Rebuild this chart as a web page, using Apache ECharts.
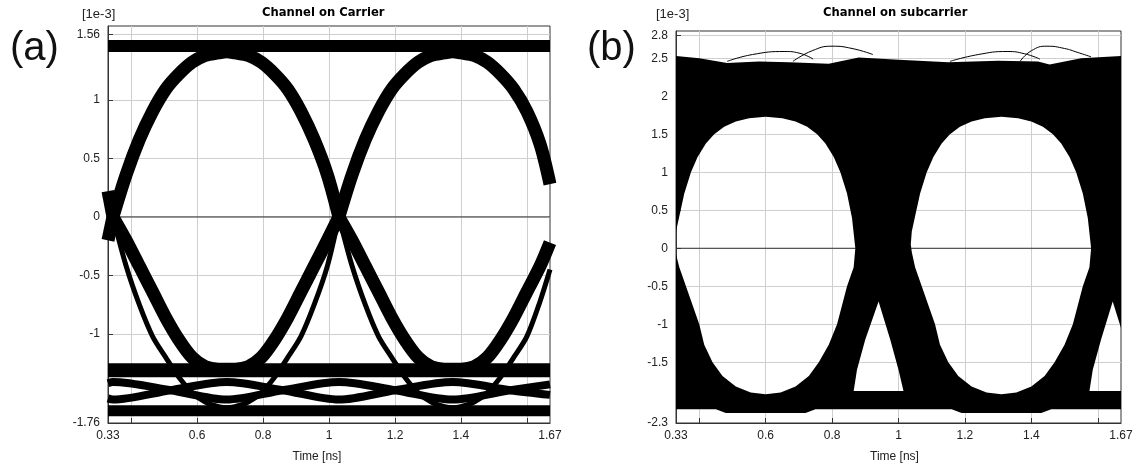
<!DOCTYPE html>
<html><head><meta charset="utf-8">
<script src="https://cdn.jsdelivr.net/npm/echarts@6/dist/echarts.min.js"></script>
<style>html,body{margin:0;padding:0;background:#fff}#c{width:1138px;height:468px}</style>
</head><body><div id="c"></div>
<script>
// ---------- axes ----------
const xTickValues = [0.4, 0.6, 0.8, 1.0, 1.2, 1.4, 1.6];
const xLabelValues = [0.33, 0.6, 0.8, 1, 1.2, 1.4, 1.67];
const yTickValuesA = [-1, -0.5, 0, 0.5, 1, 1.56];
const yLabelValuesA = [-1.76, -1, -0.5, 0, 0.5, 1, 1.56];
const yTickValuesB = [-1.5, -1, -0.5, 0, 0.5, 1, 1.5, 2, 2.5, 2.8];
const yLabelValuesB = [-2.3, -1.5, -1, -0.5, 0, 0.5, 1, 1.5, 2, 2.5, 2.8];

// ---------- panel (a): Channel on Carrier ----------
const timeEdgeA = [0.33, 0.345];
const timeHalf1A = [0.345, 0.385, 0.425, 0.465, 0.505, 0.545, 0.585, 0.625, 0.665, 0.69, 0.715, 0.755, 0.795, 0.835, 0.875, 0.915, 0.955, 0.995, 1.03];
const timeHalf2A = [1.03, 1.07, 1.11, 1.15, 1.19, 1.23, 1.27, 1.31, 1.35, 1.375, 1.40, 1.44, 1.48, 1.52, 1.56, 1.60, 1.64, 1.67];
const timeFullA = [0.33, 1.67];
const timeLensA = [0.33, 0.345, 0.52, 0.69, 0.86, 1.03, 1.2, 1.375, 1.55, 1.67];

const upperTailA = [0.22, 0];
const lowerTailA = [-0.2, 0];
const upperArch1A = [0, 0.36, 0.66, 0.90, 1.09, 1.22, 1.32, 1.38, 1.40, 1.41, 1.40, 1.38, 1.32, 1.22, 1.09, 0.90, 0.66, 0.36, 0];
const upperArch2A = [0, 0.36, 0.66, 0.90, 1.09, 1.22, 1.32, 1.38, 1.40, 1.41, 1.40, 1.38, 1.32, 1.22, 1.09, 0.90, 0.62, 0.28];
const lowerDeep1A = [0, -0.42, -0.75, -1.02, -1.20, -1.37, -1.50, -1.58, -1.62, -1.63, -1.62, -1.58, -1.50, -1.37, -1.20, -1.02, -0.75, -0.42, 0];
const lowerDeep2A = [0, -0.42, -0.75, -1.02, -1.20, -1.37, -1.50, -1.58, -1.62, -1.63, -1.62, -1.58, -1.50, -1.37, -1.20, -1.02, -0.72, -0.45];
const lowerShallow1A = [0, -0.2, -0.42, -0.64, -0.86, -1.05, -1.20, -1.28, -1.30, -1.30, -1.30, -1.28, -1.20, -1.05, -0.86, -0.64, -0.42, -0.2, 0];
const lowerShallow2A = [0, -0.2, -0.42, -0.64, -0.86, -1.05, -1.20, -1.28, -1.30, -1.30, -1.30, -1.28, -1.20, -1.05, -0.86, -0.64, -0.42, -0.22];
const topLevelA = [1.46, 1.46];
const zeroLevelMidA = [-1.31, -1.31];
const zeroLevelLowA = [-1.655, -1.655];
const lensUpA = [-1.42, -1.41, -1.48, -1.56, -1.48, -1.41, -1.48, -1.56, -1.48, -1.43];
const lensDownA = [-1.55, -1.56, -1.48, -1.41, -1.48, -1.56, -1.48, -1.41, -1.48, -1.52];

// ---------- panel (b): Channel on subcarrier ----------
const upperEnvB = [[0.33, 2.53], [0.40, 2.50], [0.484, 2.44], [0.58, 2.46], [0.67, 2.45], [0.79, 2.43], [0.88, 2.51], [1.00, 2.48], [1.15, 2.45], [1.30, 2.47], [1.42, 2.46], [1.455, 2.42], [1.55, 2.50], [1.67, 2.53]];
const lowerEnvB = [[1.67, -2.12], [1.46, -2.12], [1.43, -2.17], [1.19, -2.17], [1.16, -2.12], [0.75, -2.12], [0.72, -2.17], [0.48, -2.17], [0.45, -2.12], [0.33, -2.12]];
const eye1B = [[0.33, 0.22], [0.34, 0.42], [0.355, 0.72], [0.375, 1.0], [0.395, 1.2], [0.42, 1.38], [0.445, 1.5], [0.475, 1.6], [0.51, 1.67], [0.55, 1.71], [0.60, 1.73], [0.65, 1.71], [0.69, 1.67], [0.725, 1.6], [0.755, 1.5], [0.78, 1.38], [0.805, 1.2], [0.825, 1.0], [0.845, 0.72], [0.86, 0.4], [0.87, 0.0],
  [0.865, -0.25], [0.845, -0.5], [0.83, -0.75], [0.815, -1.0], [0.79, -1.27], [0.76, -1.5], [0.73, -1.68], [0.69, -1.82], [0.645, -1.9], [0.60, -1.92], [0.555, -1.9], [0.51, -1.82], [0.47, -1.68], [0.44, -1.5], [0.415, -1.27], [0.40, -1.0], [0.38, -0.75], [0.36, -0.5], [0.34, -0.25], [0.33, -0.08]];
const eye2B = [[1.037, 0.05], [1.04, 0.22], [1.05, 0.42], [1.065, 0.72], [1.085, 1.0], [1.105, 1.2], [1.13, 1.38], [1.155, 1.5], [1.185, 1.6], [1.22, 1.67], [1.26, 1.71], [1.31, 1.73], [1.36, 1.71], [1.40, 1.67], [1.435, 1.6], [1.465, 1.5], [1.49, 1.38], [1.515, 1.2], [1.535, 1.0], [1.555, 0.72], [1.57, 0.4], [1.58, 0.0],
  [1.575, -0.25], [1.555, -0.5], [1.54, -0.75], [1.525, -1.0], [1.50, -1.27], [1.47, -1.5], [1.44, -1.68], [1.40, -1.82], [1.355, -1.9], [1.31, -1.92], [1.265, -1.9], [1.22, -1.82], [1.18, -1.68], [1.15, -1.5], [1.125, -1.27], [1.11, -1.0], [1.09, -0.75], [1.07, -0.5], [1.05, -0.25], [1.04, -0.05]];
const gap1B = [[0.94, -0.7], [0.975, -1.2], [1.0, -1.6], [1.015, -1.88], [0.865, -1.88], [0.875, -1.6], [0.9, -1.2]];
const gap2B = [[1.645, -0.7], [1.67, -1.05], [1.67, -1.88], [1.575, -1.88], [1.585, -1.6], [1.61, -1.2]];
const arcsB = [
  [[0.484, 2.46], [0.56, 2.55], [0.658, 2.59], [0.70, 2.57], [0.743, 2.49]],
  [[0.682, 2.46], [0.74, 2.6], [0.80, 2.66], [0.86, 2.63], [0.923, 2.55]],
  [[1.155, 2.46], [1.24, 2.55], [1.327, 2.59], [1.38, 2.56], [1.426, 2.49]],
  [[1.366, 2.46], [1.40, 2.6], [1.447, 2.66], [1.50, 2.63], [1.538, 2.58], [1.58, 2.52]]
];

// ---------- build ----------
const FONT = 'Liberation Sans, Arial, sans-serif';
const zip = (ts, vs) => ts.map((t, i) => [t, vs[i]]);

function trace(times, vals, width, z) {
  return {
    type: 'line', xAxisIndex: 0, yAxisIndex: 0, data: zip(times, vals),
    smooth: 0.3, symbol: 'none', silent: true, z: z || 2,
    lineStyle: { color: '#000', width: width, cap: 'butt', join: 'round' }
  };
}

function loopPath(api, pts, wantPositive) {
  let p = pts.map(q => api.coord(q));
  let a = 0;
  for (let i = 0; i < p.length; i++) { const u = p[i], w = p[(i + 1) % p.length]; a += u[0] * w[1] - w[0] * u[1]; }
  if ((a > 0) !== wantPositive) p = p.slice().reverse();
  return 'M' + p.map(q => q[0].toFixed(2) + ' ' + q[1].toFixed(2)).join(' L') + ' Z ';
}

function axisX(gridIndex) {
  return {
    type: 'value', gridIndex, min: 0.33, max: 1.67,
    name: 'Time [ns]', nameLocation: 'middle', nameGap: 28,
    nameTextStyle: { fontFamily: FONT, fontSize: 12, color: '#222', padding: gridIndex === 0 ? [0, 24, 0, 0] : [0, 8, 0, 0] },
    axisLine: { show: true, onZero: false, lineStyle: { color: '#333', width: 1 } },
    axisTick: { show: true, inside: true, length: 5, customValues: xTickValues, lineStyle: { color: '#333' } },
    axisLabel: { customValues: xLabelValues, margin: 7, fontFamily: FONT, fontSize: 12, color: '#222', formatter: v => String(+v.toFixed(2)) },
    splitLine: { show: true, lineStyle: { color: '#cfcfcf', width: 1 } }
  };
}
function axisY(gridIndex, min, max, ticks, labels) {
  return {
    type: 'value', gridIndex, min, max,
    axisLine: { show: true, lineStyle: { color: '#333', width: 1 } },
    axisTick: { show: true, inside: true, length: 5, customValues: ticks, lineStyle: { color: '#333' } },
    axisLabel: { customValues: labels, margin: 8, fontFamily: FONT, fontSize: 12, color: '#222', formatter: v => String(+v.toFixed(2)) },
    splitLine: { show: true, lineStyle: { color: '#cfcfcf', width: 1 } }
  };
}

const seriesA = [
  { type: 'line', xAxisIndex: 0, yAxisIndex: 0, data: zip(timeFullA, [0, 0]), symbol: 'none', silent: true, z: 1, lineStyle: { color: '#333', width: 1 } },
  trace(timeFullA, topLevelA, 12),
  trace(timeFullA, zeroLevelMidA, 14),
  trace(timeFullA, zeroLevelLowA, 11),
  trace(timeLensA, lensUpA, 8),
  trace(timeLensA, lensDownA, 8),
  trace(timeEdgeA, upperTailA, 13),
  trace(timeEdgeA, lowerTailA, 13),
  trace(timeHalf1A, upperArch1A, 13),
  trace(timeHalf2A, upperArch2A, 13),
  trace(timeHalf1A, lowerShallow1A, 13),
  trace(timeHalf2A, lowerShallow2A, 13),
  trace(timeHalf1A, lowerDeep1A, 5),
  trace(timeHalf2A, lowerDeep2A, 5)
];

const seriesB = [
  { type: 'line', xAxisIndex: 1, yAxisIndex: 1, data: [[0.33, 0], [1.67, 0]], symbol: 'none', silent: true, z: 1, lineStyle: { color: '#333', width: 1 } },
  {
    type: 'custom', xAxisIndex: 1, yAxisIndex: 1, coordinateSystem: 'cartesian2d', silent: true, z: 2, clip: true,
    data: [[0.33, 0]],
    renderItem: function (params, api) {
      if (params.dataIndex !== 0) return;
      let d = loopPath(api, upperEnvB.concat(lowerEnvB), true);
      [eye1B, eye2B, gap1B, gap2B].forEach(h => { d += loopPath(api, h, false); });
      return { type: 'path', shape: { pathData: d }, style: { fill: '#000', stroke: null } };
    }
  }
].concat(arcsB.map(arc => ({
  type: 'line', xAxisIndex: 1, yAxisIndex: 1, data: arc, smooth: 0.5, symbol: 'none', silent: true, z: 3,
  lineStyle: { color: '#000', width: 1 }
})));

const option = {
  animation: false,
  backgroundColor: '#fff',
  title: [
    { text: '(a)', left: 5, top: 24, textStyle: { fontFamily: FONT, fontSize: 40, fontWeight: 'normal', color: '#111' } },
    { text: '(b)', left: 582, top: 24, textStyle: { fontFamily: FONT, fontSize: 40, fontWeight: 'normal', color: '#111' } },
    { text: 'Channel on Carrier', left: 257, top: 2, textStyle: { fontFamily: 'DejaVu Sans', fontSize: 11.6, fontWeight: 'bold', color: '#000' } },
    { text: 'Channel on subcarrier', left: 818, top: 2, textStyle: { fontFamily: 'DejaVu Sans', fontSize: 11.6, fontWeight: 'bold', color: '#000' } },
    { text: '[1e-3]', left: 77, top: 3, textStyle: { fontFamily: FONT, fontSize: 13, fontWeight: 'normal', color: '#222' } },
    { text: '[1e-3]', left: 651, top: 3, textStyle: { fontFamily: FONT, fontSize: 13, fontWeight: 'normal', color: '#222' } }
  ],
  grid: [
    { left: 108, top: 26, width: 442, height: 399, show: true, borderColor: '#333', borderWidth: 1, backgroundColor: 'transparent' },
    { left: 676, top: 31, width: 445, height: 393, show: true, borderColor: '#333', borderWidth: 1, backgroundColor: 'transparent' }
  ],
  xAxis: [axisX(0), axisX(1)],
  yAxis: [axisY(0, -1.76, 1.63, yTickValuesA, yLabelValuesA), axisY(1, -2.3, 2.86, yTickValuesB, yLabelValuesB)],
  series: seriesA.concat(seriesB)
};

const chart = echarts.init(document.getElementById('c'));
chart.setOption(option);
</script>
</body></html>
